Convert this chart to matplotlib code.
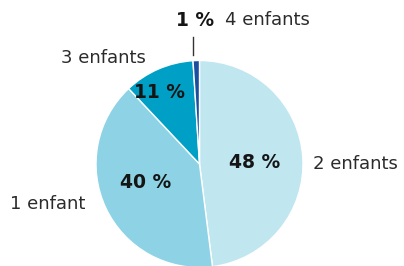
import matplotlib.pyplot as plt

# Data
categories = ["2 enfants", "1 enfant", "3 enfants", "4 enfants"]
shares = [48, 40, 11, 1]
colors = ["#c0e6f0", "#8dd3e5", "#00a0c6", "#1a4fa0"]

fig = plt.figure(figsize=(4.04, 2.66), dpi=100)
ax = fig.add_axes([0, 0, 1, 1])

wedges, _ = ax.pie(shares, colors=colors, startangle=90, counterclock=False,
                   center=(199.5, 102), radius=103.5,
                   wedgeprops=dict(edgecolor="white", linewidth=1))
ax.set_xlim(0, 404)
ax.set_ylim(0, 266)
ax.set_aspect("equal")
ax.axis("off")

txt = "#2b2b2b"
# category labels (x, y in pixels from bottom-left)
cat_pos = {"2 enfants": (313, 102, "left"), "1 enfant": (10, 62, "left"),
           "3 enfants": (146, 208, "right"), "4 enfants": (225, 246, "left")}
for name in categories:
    x, y, ha = cat_pos[name]
    ax.text(x, y, name, ha=ha, va="center", fontsize=13, color=txt)

# percentage labels
pct_pos = [(255, 103), (146, 83), (160, 173), (195.5, 246)]
for v, (x, y) in zip(shares, pct_pos):
    ax.text(x, y, f"{v} %", ha="center", va="center", fontsize=13.5,
            fontweight="bold", color="#151515")

# leader line for the small slice
ax.plot([193, 193], [229, 211], color="#333333", linewidth=1)

fig.savefig("out.png", dpi=100)
